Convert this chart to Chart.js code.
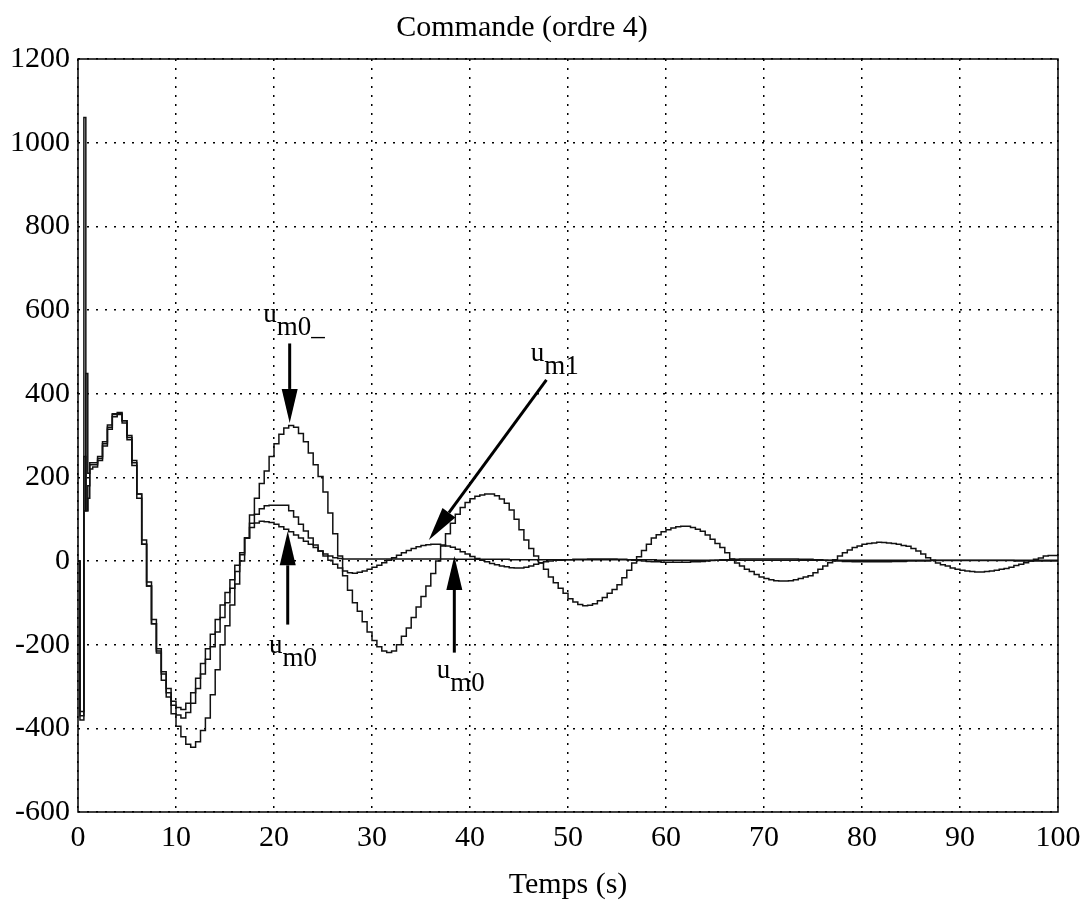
<!DOCTYPE html>
<html>
<head>
<meta charset="utf-8">
<script src="https://cdn.jsdelivr.net/npm/chart.js@4.4.1/dist/chart.umd.min.js"></script>
<style>
  html, body { margin: 0; padding: 0; background: #fff; }
  #wrap { width: 1080px; height: 906px; }
</style>
</head>
<body>
<div id="wrap"><canvas id="chart" width="1080" height="906"></canvas></div>
<script>
const xTicks = [0, 10, 20, 30, 40, 50, 60, 70, 80, 90, 100];
const yTicks = [-600, -400, -200, 0, 200, 400, 600, 800, 1000, 1200];

// début du transitoire (pics initiaux), t = 0 ... 1.2 s
const tDebut = [0, 0.2, 0.4, 0.6, 0.8, 1.0, 1.2];
const uA_debut = [0, -370, -370, 1060, 120, 150, 230];
const uB_debut = [0, -360, -360, 120, 448, 210, 220];
const uC_debut = [0, -380, -380, 250, 120, 180, 235];

// ensuite échantillons toutes les 0.5 s, de t = 1.5 à 100 s
const tPremier = 1.5;
const pas = 0.5;

// u_m0_ (grande oscillation)
const uA = [
  230, 245, 280, 320, 350, 355, 335, 300, 240, 160,
  40, -60, -150, -220, -285, -325, -365, -395, -420, -438,
  -445, -432, -405, -375, -320, -260, -200, -155, -105, -55,
  0, 55, 110, 150, 185, 215, 250, 280, 303, 318,
  324, 320, 305, 285, 258, 230, 202, 165, 115, 65,
  12, -35, -70, -100, -120, -145, -170, -190, -205, -215,
  -219, -215, -200, -180, -160, -135, -110, -85, -60, -30,
  0, 36, 65, 90, 112, 128, 140, 149, 155, 158,
  160, 160, 156, 148, 138, 122, 100, 75, 50, 30,
  12, -5, -20, -38, -52, -65, -77, -90, -98, -104,
  -107, -106, -102, -95, -87, -77, -68, -57, -40, -22,
  -5, 10, 25, 40, 55, 63, 70, 75, 79, 82,
  83, 83, 80, 76, 71, 62, 52, 42, 32, 20,
  5, -5, -12, -20, -25, -32, -38, -42, -45, -47,
  -48, -48, -47, -45, -42, -38, -35, -28, -20, -12,
  -4, 3, 12, 20, 26, 32, 36, 40, 42, 43,
  45, 44, 43, 42, 40, 37, 35, 30, 24, 17,
  8, 2, -5, -9, -12, -17, -20, -22, -24, -25,
  -26, -26, -25, -24, -22, -20, -18, -15, -11, -8,
  -4, 0, 4, 7, 12, 13, 13, 13
];

// u_m1 (oscillation moyenne)
const uB = [
  225, 240, 275, 315, 345, 352, 335, 295, 235, 160,
  50, -50, -140, -210, -270, -315, -345, -368, -375, -362,
  -340, -305, -270, -235, -205, -170, -135, -100, -65, -25,
  15, 55, 90, 112, 125, 132, 133, 133, 133, 133,
  120, 105, 88, 72, 55, 38, 24, 12, 2, -8,
  -17, -24, -28, -29, -27, -24, -20, -15, -10, -4,
  2, 8, 14, 20, 25, 30, 34, 37, 39, 40,
  40, 38, 36, 33, 28, 22, 17, 11, 6, 2,
  -2, -6, -9, -12, -14, -16, -17, -17, -15, -12,
  -8, -4, -2, 0, 2, 2, 3, 3, 4, 4,
  4, 5, 5, 5, 5, 5, 5, 4, 4, 3,
  2, 1, 0, -1, -2, -2, -3, -3, -3, -3,
  -3, -3, -2, -2, -1, 0, 1, 2, 3, 3,
  4, 4, 5, 5, 5, 5, 5, 5, 5, 5,
  5, 5, 5, 5, 4, 4, 4, 3, 3, 2,
  1, 0, 0, -1, -1, -2, -2, -2, -2, -2,
  -2, -2, -2, -1, -1, -1, 0, 0, 0, 0,
  0, 1, 1, 1, 1, 1, 1, 1, 1, 1,
  1, 1, 1, 1, 1, 1, 1, 1, 0, 0,
  0, 0, 0, 0, 0, 0, 0, 0
];

// u_m0 (la plus amortie)
const uC = [
  235, 250, 285, 325, 352, 350, 330, 290, 228, 150,
  40, -60, -150, -215, -265, -305, -335, -350, -355, -340,
  -315, -280, -245, -210, -175, -140, -105, -75, -45, -10,
  20, 55, 80, 91, 95, 94, 92, 88, 82, 76,
  70, 62, 55, 47, 40, 32, 24, 17, 12, 8,
  6, 5, 5, 5, 5, 5, 5, 5, 5, 5,
  5, 5, 5, 5, 5, 5, 5, 5, 5, 5,
  5, 5, 5, 5, 4, 4, 4, 4, 4, 4,
  4, 4, 4, 4, 4, 3, 3, 3, 3, 3,
  3, 3, 3, 3, 3, 3, 3, 3, 3, 3,
  3, 3, 3, 3, 3, 3, 3, 3, 3, 3,
  3, 3, 3, 3, 3, 2, 2, 2, 2, 2,
  2, 2, 2, 2, 2, 2, 2, 2, 2, 2,
  2, 2, 2, 2, 2, 2, 2, 2, 2, 2,
  2, 2, 2, 2, 2, 2, 2, 2, 2, 2,
  2, 2, 2, 2, 2, 2, 2, 2, 2, 2,
  2, 2, 2, 2, 2, 2, 2, 2, 2, 2,
  2, 2, 2, 2, 2, 2, 2, 2, 2, 2,
  2, 2, 2, 2, 2, 2, 2, 2, 2, 2,
  2, 2, 2, 2, 2, 2, 2, 2
];

// construit les points {x, y} a partir des tableaux
function points(debut, valeurs) {
  const pts = tDebut.map((t, i) => ({ x: t, y: debut[i] }));
  valeurs.forEach((v, i) => pts.push({ x: tPremier + i * pas, y: v }));
  return pts;
}

// fleches et etiquettes (coordonnees en unites des axes)
const etiquettes = [
  { sub: "m0_", tx: 18.9, ty: 571, from: [21.6, 520], to: [21.6, 330] },
  { sub: "m1", tx: 46.2, ty: 479, from: [47.8, 433], to: [35.8, 50] },
  { sub: "m0", tx: 19.5, ty: -221, from: [21.4, -152], to: [21.4, 71] },
  { sub: "m0", tx: 36.6, ty: -279, from: [38.4, -219], to: [38.4, 12] }
];

const serif = "'Liberation Serif', 'DejaVu Serif', serif";

function fleche(ctx, x1, y1, x2, y2) {
  const ang = Math.atan2(y2 - y1, x2 - x1);
  const L = 34, W = 8;
  const bx = x2 - L * Math.cos(ang), by = y2 - L * Math.sin(ang);
  ctx.beginPath();
  ctx.moveTo(x1, y1);
  ctx.lineTo(bx, by);
  ctx.lineWidth = 3;
  ctx.stroke();
  ctx.beginPath();
  ctx.moveTo(x2, y2);
  ctx.lineTo(bx + W * Math.sin(ang), by - W * Math.cos(ang));
  ctx.lineTo(bx - W * Math.sin(ang), by + W * Math.cos(ang));
  ctx.closePath();
  ctx.fill();
}

const decor = {
  id: "decor",
  afterDraw(chart) {
    const ctx = chart.ctx;
    const a = chart.chartArea;
    const xs = chart.scales.x, ys = chart.scales.y;
    ctx.save();
    // cadre
    ctx.strokeStyle = "#000";
    ctx.lineWidth = 1.5;
    ctx.strokeRect(a.left, a.top, a.right - a.left, a.bottom - a.top);
    // titres
    ctx.fillStyle = "#000";
    ctx.font = "30px " + serif;
    ctx.textAlign = "center";
    ctx.textBaseline = "alphabetic";
    ctx.fillText("Commande (ordre 4)", 522, 36);
    ctx.fillText("Temps (s)", (a.left + a.right) / 2, 893);
    // annotations
    ctx.strokeStyle = "#000";
    ctx.fillStyle = "#000";
    etiquettes.forEach(e => {
      fleche(ctx, xs.getPixelForValue(e.from[0]), ys.getPixelForValue(e.from[1]),
        xs.getPixelForValue(e.to[0]), ys.getPixelForValue(e.to[1]));
      const px = xs.getPixelForValue(e.tx), py = ys.getPixelForValue(e.ty);
      ctx.textAlign = "left";
      ctx.font = "27px " + serif;
      ctx.fillText("u", px, py);
      const w = ctx.measureText("u").width;
      ctx.fillText(e.sub, px + w, py + 13);
    });
    ctx.restore();
  }
};

const courbe = (pts) => ({
  data: pts,
  stepped: true,
  borderColor: "#111",
  borderWidth: 1.5,
  pointRadius: 0,
  fill: false
});

new Chart(document.getElementById("chart"), {
  type: "line",
  data: {
    datasets: [
      courbe(points(uA_debut, uA)),
      courbe(points(uB_debut, uB)),
      courbe(points(uC_debut, uC))
    ]
  },
  options: {
    responsive: false,
    animation: false,
    layout: { padding: { top: 59, right: 22, left: 0, bottom: 0 } },
    plugins: { legend: { display: false }, tooltip: { enabled: false }, title: { display: false } },
    scales: {
      x: {
        type: "linear",
        min: 0, max: 100,
        afterBuildTicks: s => { s.ticks = xTicks.map(v => ({ value: v })); },
        afterFit: s => { s.height = 94; s.paddingRight = 0; s.paddingLeft = 0; },
        grid: { color: "#000", lineWidth: 1.5, drawTicks: false },
        border: { display: false, dash: [2, 7] },
        ticks: { color: "#000", font: { family: serif, size: 30 }, padding: 8, maxRotation: 0,
          callback: v => String(v) }
      },
      y: {
        type: "linear",
        min: -600, max: 1200,
        afterBuildTicks: s => { s.ticks = yTicks.map(v => ({ value: v })); },
        afterFit: s => { s.width = 78; s.paddingTop = 0; s.paddingBottom = 0; },
        grid: { color: "#000", lineWidth: 1.5, drawTicks: false },
        border: { display: false, dash: [2, 7] },
        ticks: { color: "#000", font: { family: serif, size: 30 }, padding: 8,
          callback: v => String(v) }
      }
    }
  },
  plugins: [decor]
});
</script>
</body>
</html>
